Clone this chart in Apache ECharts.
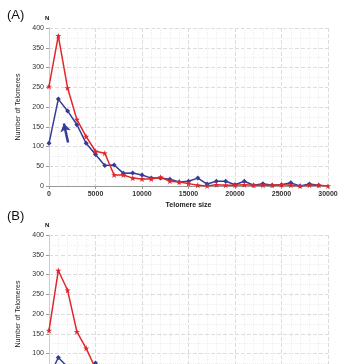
<!DOCTYPE html>
<html><head><meta charset="utf-8">
<script src="https://cdn.jsdelivr.net/npm/echarts@6/dist/echarts.min.js"></script>
<style>html,body{margin:0;padding:0;background:#fff;overflow:hidden;}#c{width:356px;height:420px;}</style>
</head><body><div id="c"></div>
<script>
var sizesA = [0,1000,2000,3000,4000,5000,6000,7000,8000,9000,10000,11000,12000,13000,14000,15000,16000,17000,18000,19000,20000,21000,22000,23000,24000,25000,26000,27000,28000,29000,30000];
var redA = [252,380,248,168,125,88,83,28,28,20,18,18,22,12,10,6,2,0,3,2,2,3,2,2,2,3,2,0,2,2,0];
var blueA = [108,220,190,155,108,80,52,53,32,33,28,20,20,17,10,12,20,5,12,12,3,12,2,6,2,3,8,0,5,2,null];
var sizesB = [0,1000,2000,3000,4000,5000,6000];
var redB = [158,310,260,155,113,62,40];
var blueB = [40,90,66,58,55,76,45];
var arrowA = [[2050,110],[1600,158]];
var xTicks = [0,5000,10000,15000,20000,25000,30000];
var yTicks = [0,50,100,150,200,250,300,350,400];

function pairs(xs, ys){ return xs.map(function(x,i){ return [x, ys[i]]; }); }
var star = 'path://M0,-10L2.5,-3L10,-3L4,1.5L6.5,9L0,4.5L-6.5,9L-4,1.5L-10,-3L-2.5,-3Z';
var RED = '#e2262b', BLUE = '#353c98';
function xAxis(idx, show){
  return {type:'value', gridIndex:idx, min:xTicks[0], max:xTicks[xTicks.length-1], interval:5000,
    axisLine:{show:true,lineStyle:{color:'#999',width:1}},
    axisTick:{show:show,length:3,lineStyle:{color:'#999'}},
    axisLabel:{show:show,fontSize:7,color:'#333',fontFamily:'Liberation Sans',fontWeight:'bold',margin:5,
      formatter:function(v){return String(v);}},
    splitLine:{show:true,lineStyle:{color:'#dcdcdc',type:'dashed',width:1}},
    minorTick:{show:false,splitNumber:5},
    minorSplitLine:{show:true,lineStyle:{color:'#eeeeee',type:'dotted',width:1}},
    name: show ? 'Telomere size' : '', nameLocation:'middle', nameGap:16,
    nameTextStyle:{fontSize:7,fontWeight:'bold',color:'#222',fontFamily:'Liberation Sans'}};
}
function yAxis(idx){
  return {type:'value', gridIndex:idx, min:yTicks[0], max:yTicks[yTicks.length-1], interval:50,
    axisLine:{show:true,lineStyle:{color:'#ccc',width:1}},
    axisTick:{show:true,length:3,lineStyle:{color:'#999'}},
    axisLabel:{fontSize:7,color:'#333',fontFamily:'Liberation Sans',margin:5},
    splitLine:{show:true,lineStyle:{color:'#dcdcdc',type:'dashed',width:1}},
    minorTick:{show:false,splitNumber:2},
    minorSplitLine:{show:true,lineStyle:{color:'#eeeeee',type:'dotted',width:1}},
    name:'Number of Telomeres', nameLocation:'middle', nameGap:23, nameRotate:90,
    nameTextStyle:{fontSize:7,color:'#222',fontFamily:'Liberation Sans'}};
}
function line(xi, data, color, sym, size){
  return {type:'line', xAxisIndex:xi, yAxisIndex:xi, data:data, symbol:sym, symbolSize:size,
    showAllSymbol:true, lineStyle:{color:color,width:1.5}, itemStyle:{color:color}, z:color===RED?3:2, animation:false};
}
var chart = echarts.init(document.getElementById('c'), null, {renderer:'canvas'});
chart.setOption({
  animation:false,
  grid:[{left:49,top:28,width:279,height:158},{left:49,top:235,width:279,height:158}],
  xAxis:[xAxis(0,true), xAxis(1,false)],
  yAxis:[yAxis(0), yAxis(1)],
  graphic:[
    {type:'text',left:7,top:9,style:{text:'(A)',fontSize:13,fill:'#111',fontFamily:'Liberation Sans'}},
    {type:'text',left:7,top:210,style:{text:'(B)',fontSize:13,fill:'#111',fontFamily:'Liberation Sans'}},
    {type:'text',left:45,top:15,style:{text:'N',fontSize:6,fontWeight:'bold',fill:'#111',fontFamily:'Liberation Sans'}},
    {type:'text',left:45,top:222,style:{text:'N',fontSize:6,fontWeight:'bold',fill:'#111',fontFamily:'Liberation Sans'}}
  ],
  series:[
    line(0, pairs(sizesA, blueA), BLUE, 'diamond', 5),
    line(0, pairs(sizesA, redA), RED, star, 6),
    {type:'lines', coordinateSystem:'cartesian2d', xAxisIndex:0, yAxisIndex:0, polyline:false,
     data:[{coords:arrowA}], symbol:['none','arrow'], symbolSize:8,
     lineStyle:{color:BLUE,width:2.5,opacity:1}, animation:false, z:4},
    line(1, pairs(sizesB, blueB), BLUE, 'diamond', 5),
    line(1, pairs(sizesB, redB), RED, star, 6)
  ]
});
</script></body></html>
